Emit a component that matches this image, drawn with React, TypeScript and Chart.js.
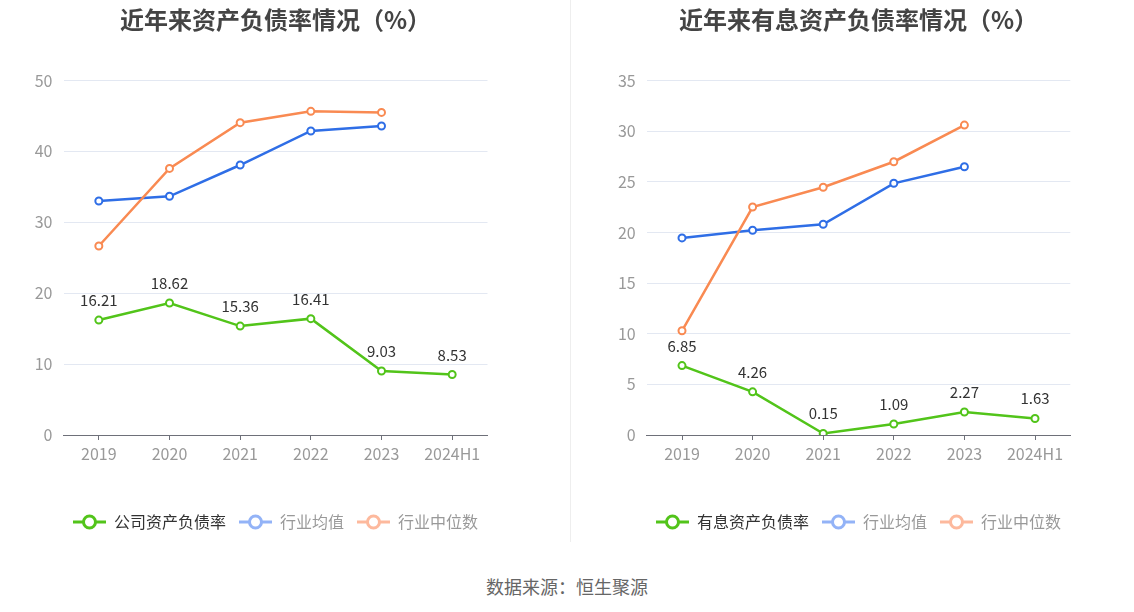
import React, { useEffect, useRef } from "react";
import { Chart, registerables } from "chart.js";

Chart.register(...registerables);

const categories = ["2019", "2020", "2021", "2022", "2023", "2024H1"];

const companyDebtRatio = [16.21, 18.62, 15.36, 16.41, 9.03, 8.53];
const industryAvgDebtRatio = [33.0, 33.67, 38.08, 42.88, 43.58, null];
const industryMedianDebtRatio = [26.66, 37.6, 44.05, 45.65, 45.5, null];

const interestDebtRatio = [6.85, 4.26, 0.15, 1.09, 2.27, 1.63];
const industryAvgInterestRatio = [19.46, 20.22, 20.81, 24.85, 26.49, null];
const industryMedianInterestRatio = [10.29, 22.51, 24.46, 26.98, 30.6, null];

const leftTitle = "近年来资产负债率情况（%）";
const rightTitle = "近年来有息资产负债率情况（%）";
const leftNames = ["公司资产负债率", "行业均值", "行业中位数"];
const rightNames = ["有息资产负债率", "行业均值", "行业中位数"];
const leftAxis = { max: 50, step: 10 };
const rightAxis = { max: 35, step: 5 };
const sourceText = "数据来源：恒生聚源";

const GREEN = "#52c41a";
const BLUE = "#2f6ee6";
const ORANGE = "#f98a52";
const LEGEND_COLORS = [GREEN, "#93b3f7", "#fdb99d"];
const LEGEND_TEXT = ["#333333", "#999999", "#999999"];
const FONT = '"Noto Sans CJK SC", "Noto Sans", sans-serif';

function makeLegendIcon(color: string): HTMLCanvasElement {
  const c = document.createElement("canvas");
  c.width = 33;
  c.height = 16;
  const ctx = c.getContext("2d")!;
  ctx.strokeStyle = color;
  ctx.lineWidth = 3;
  ctx.beginPath();
  ctx.moveTo(0, 8);
  ctx.lineTo(33, 8);
  ctx.stroke();
  ctx.beginPath();
  ctx.arc(16.5, 8, 6, 0, Math.PI * 2);
  ctx.fillStyle = "#fff";
  ctx.fill();
  ctx.stroke();
  return c;
}

const valueLabelPlugin = {
  id: "valueLabels",
  afterDatasetsDraw(chart: any) {
    const meta = chart.getDatasetMeta(0);
    const data = chart.data.datasets[0].data;
    const ctx = chart.ctx;
    ctx.save();
    ctx.font = `15px ${FONT}`;
    ctx.fillStyle = "#333333";
    ctx.textAlign = "center";
    ctx.textBaseline = "alphabetic";
    meta.data.forEach((p: any, i: number) => {
      const v = data[i];
      if (v == null) return;
      ctx.fillText(Number(v).toFixed(2), p.x, p.y - 14);
    });
    ctx.restore();
  },
};

function buildConfig(
  title: string,
  names: string[],
  series: (number | null)[][],
  axis: { max: number; step: number },
  yWidth: number
): any {
  const colors = [GREEN, BLUE, ORANGE];
  return {
    type: "line",
    data: {
      labels: categories,
      datasets: series.map((d, i) => ({
        label: names[i],
        data: d,
        yAxisID: "y",
        borderColor: colors[i],
        backgroundColor: colors[i],
        borderWidth: 2.5,
        pointRadius: 3.5,
        pointHoverRadius: 3.5,
        pointBorderWidth: 2,
        pointBackgroundColor: "#ffffff",
        pointBorderColor: colors[i],
        tension: 0,
        spanGaps: false,
        order: 3 - i,
      })),
    },
    options: {
      animation: false,
      responsive: false,
      maintainAspectRatio: false,
      layout: { padding: { left: 0, right: 0, top: 0, bottom: 5 } },
      plugins: {
        tooltip: { enabled: false },
        title: {
          display: true,
          text: title,
          color: "#444444",
          font: { family: FONT, size: 24, weight: "bold", lineHeight: 1.2 },
          padding: { top: 5, bottom: 46.7 },
        },
        legend: {
          display: true,
          position: "bottom",
          labels: {
            usePointStyle: true,
            pointStyleWidth: 33,
            boxHeight: 16,
            padding: 13,
            font: { family: FONT, size: 16 },
            generateLabels: () =>
              names.map((n, i) => ({
                text: n,
                fillStyle: LEGEND_COLORS[i],
                strokeStyle: LEGEND_COLORS[i],
                fontColor: LEGEND_TEXT[i],
                lineWidth: 0,
                hidden: false,
                datasetIndex: i,
                pointStyle: makeLegendIcon(LEGEND_COLORS[i]),
              })),
          },
          onClick: () => {},
        },
      },
      scales: {
        x: {
          type: "category",
          offset: true,
          afterFit: (s: any) => {
            s.height = 66;
          },
          grid: {
            display: true,
            offset: false,
            drawOnChartArea: false,
            drawTicks: true,
            tickLength: 5,
            color: "#6e7079",
          },
          border: { display: true, color: "#6e7079", width: 1 },
          ticks: {
            color: "#999999",
            padding: 4,
            maxRotation: 0,
            autoSkip: false,
            font: { family: FONT, size: 16 },
          },
        },
        y: {
          position: "left",
          min: 0,
          max: axis.max,
          afterFit: (s: any) => {
            s.width = yWidth;
          },
          grid: {
            color: "#e3e8f2",
            lineWidth: 1,
            drawTicks: false,
          },
          border: { display: false },
          ticks: {
            stepSize: axis.step,
            color: "#999999",
            padding: 11,
            font: { family: FONT, size: 16 },
          },
        },
        ySpacer: {
          position: "right",
          min: 0,
          max: axis.max,
          afterFit: (s: any) => {
            s.width = yWidth;
          },
          grid: { display: false, drawTicks: false },
          border: { display: false },
          ticks: { display: false },
        },
      },
    },
    plugins: [valueLabelPlugin],
  };
}

function ChartBox(props: {
  left: number;
  width: number;
  config: () => any;
}) {
  const ref = useRef<HTMLCanvasElement | null>(null);
  useEffect(() => {
    if (!ref.current) return;
    const chart = new Chart(ref.current, props.config());
    return () => chart.destroy();
  }, []);
  return (
    <canvas
      ref={ref}
      width={props.width}
      height={545}
      style={{
        position: "absolute",
        left: props.left,
        top: 0,
        width: props.width,
        height: 545,
      }}
    />
  );
}

export default function App() {
  return (
    <div
      style={{
        position: "fixed",
        left: 0,
        top: 0,
        width: 1134,
        height: 612,
        background: "#ffffff",
        overflow: "hidden",
        fontFamily: FONT,
      }}
    >
      <ChartBox
        left={0}
        width={551}
        config={() =>
          buildConfig(
            leftTitle,
            leftNames,
            [companyDebtRatio, industryAvgDebtRatio, industryMedianDebtRatio],
            leftAxis,
            63.5
          )
        }
      />
      <div
        style={{
          position: "absolute",
          left: 570,
          top: 0,
          width: 1,
          height: 542,
          background: "#eeeeee",
        }}
      />
      <ChartBox
        left={590}
        width={537}
        config={() =>
          buildConfig(
            rightTitle,
            rightNames,
            [interestDebtRatio, industryAvgInterestRatio, industryMedianInterestRatio],
            rightAxis,
            56.7
          )
        }
      />
      <div
        style={{
          position: "absolute",
          left: 0,
          width: 1134,
          top: 574,
          textAlign: "center",
          fontSize: 18,
          lineHeight: "24px",
          color: "#666666",
        }}
      >
        {sourceText}
      </div>
    </div>
  );
}
